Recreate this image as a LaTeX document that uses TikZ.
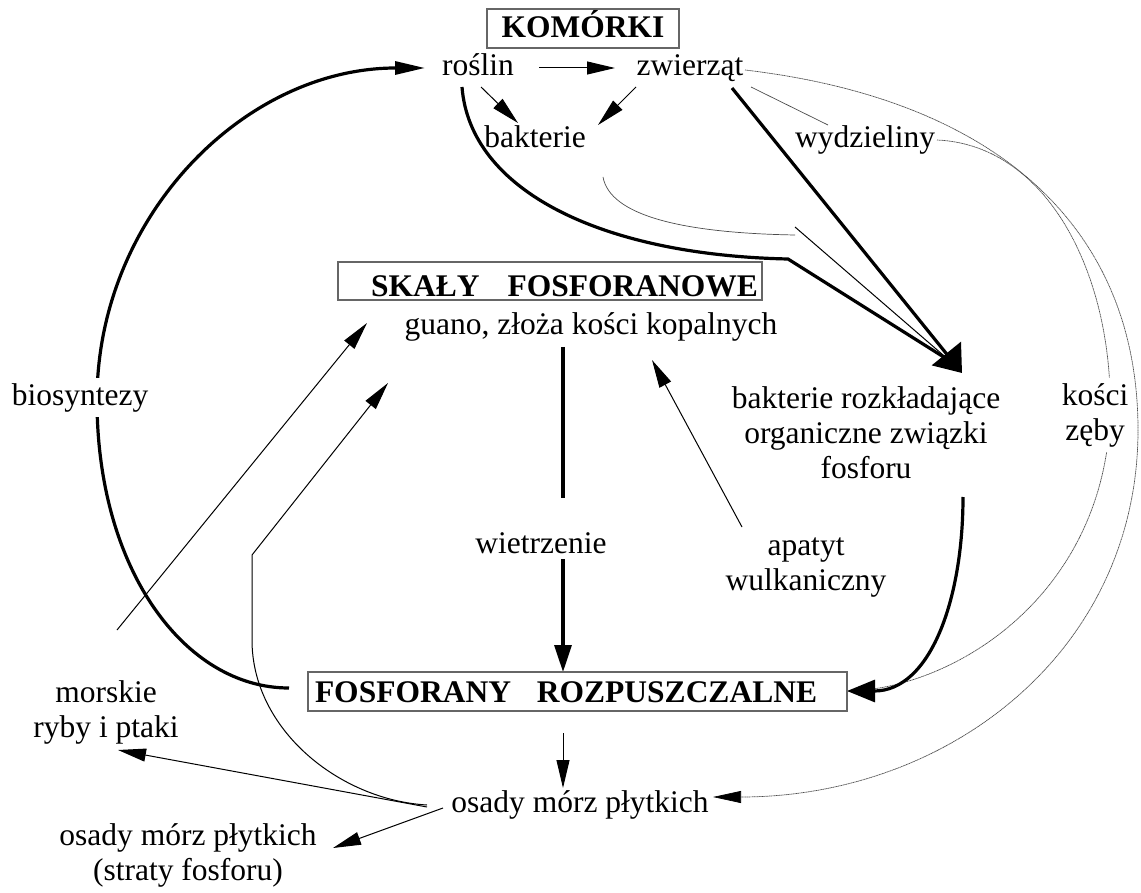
\documentclass[tikz,border=0pt]{standalone}
\usepackage{fontspec}
\setmainfont{Liberation Serif}
\usetikzlibrary{arrows.meta}
\pgfdeclarelayer{bg}
\pgfsetlayers{bg,main}

\begin{document}
\begin{tikzpicture}[x=1pt,y=-1pt,
  font=\fontsize{31.5}{35}\selectfont,
  lbl/.style={inner sep=0pt, anchor=base, align=center},
  masked/.style={lbl, fill=white, inner xsep=2pt, inner ysep=5pt},
  heading/.style={draw=black!60, line width=1.2pt, inner ysep=0pt, anchor=base,
    font=\bfseries\fontsize{31.5}{35}\selectfont},
  heavy/.style={line width=3.2pt},
  fine/.style={line width=1pt},
  faint/.style={line width=0.7pt, draw=black!70},
  dotline/.style={line width=0.7pt, draw=black!70, dash pattern=on 1.2pt off 0.5pt},
  tipthin/.style={-{Triangle[length=28pt,width=13pt]}},
  tipthick/.style={-{Triangle[length=27pt,width=17pt]}},
  tipbig/.style={-{Triangle[length=25pt,width=37pt]}},
  tipside/.style={-{Triangle[length=28pt,width=22pt]}}
]
\useasboundingbox (0,0) rectangle (1141,893);

% --- boxes ---
\node[heading, minimum width=192pt, text height=29pt, text depth=10pt] (kom) at (583,38) {KOMÓRKI};
\node[heading, text width=416pt, align=right, inner xsep=4pt, text height=35pt, text depth=3pt]
  (skaly) at (550,297) {SKAŁY\hspace*{28pt}FOSFORANOWE};
\node[heading, text width=525pt, align=left, inner xsep=7pt, text height=30pt, text depth=9pt]
  (fosf) at (577.5,702) {FOSFORANY\hspace*{26pt}ROZPUSZCZALNE};

% --- labels (multi-line labels sit on the baseline of their last line) ---
\node[lbl] (roslin) at (478,76) {roślin};
\node[lbl] (zwierzat) at (690,76) {zwierząt};
\node[lbl] (bakterie) at (535,148) {bakterie};
\node[lbl] (wydz) at (865,148) {wydzieliny};
\node[lbl] (guano) at (591,335) {guano, złoża kości kopalnych};
\node[masked] (bios) at (80,405) {biosyntezy};
\node[lbl] (rozkl) at (866,478) {bakterie rozkładające\\organiczne związki\\fosforu};
\node[masked] (kosci) at (1095,440) {kości\\zęby};
\node[lbl] (wietrz) at (541,553) {wietrzenie};
\node[lbl] (apatyt) at (806,590) {apatyt\\wulkaniczny};
\node[lbl] (morskie) at (106,737) {morskie\\ryby i ptaki};
\node[lbl] (osady) at (580,812) {osady mórz płytkich};
\node[lbl] (straty) at (188,880) {osady mórz płytkich\\(straty fosforu)};

% --- connector end points ---
\coordinate (fosfW) at (289,688);
\coordinate (roslinW) at (425,68);
\coordinate (roslinE) at (539,68);
\coordinate (zwierzW) at (615,68);
\coordinate (roslinS1) at (481,87);
\coordinate (baktNW) at (518,123);
\coordinate (zwierzS1) at (636,87);
\coordinate (baktNE) at (598,125);
\coordinate (roslinS2) at (462,87);
\coordinate (bend1) at (788,259);
\coordinate (zwierzS2) at (732,88);
\coordinate (rozklN) at (962,373);
\coordinate (merge) at (950,361);
\coordinate (baktSE) at (603,177);
\coordinate (bend2) at (795,235);
\coordinate (bend2b) at (795,227);
\coordinate (zwierzSE) at (751,87);
\coordinate (wydzNW) at (828,125);
\coordinate (zwierzE) at (745,70);
\coordinate (farR) at (1138,430);
\coordinate (osadyE) at (713,797);
\coordinate (wydzE) at (937,140);
\coordinate (kosciN) at (1110,420);
\coordinate (fosfE) at (847,691);
\coordinate (rozklS) at (963,497);
\coordinate (guanoS) at (563,347);
\coordinate (wietrzN) at (563,498);
\coordinate (wietrzS) at (563,559);
\coordinate (fosfN) at (563,672);
\coordinate (fosfS) at (563,733);
\coordinate (osadyN) at (563,788);
\coordinate (apatytN) at (742,527);
\coordinate (guanoSE) at (652,360);
\coordinate (morskieN) at (117,630);
\coordinate (guanoW1) at (367,323);
\coordinate (osadyW) at (427,805);
\coordinate (riseB) at (252,640);
\coordinate (riseT) at (252,555);
\coordinate (guanoW2) at (388,383);
\coordinate (osadyW2) at (427,807);
\coordinate (rybyE) at (118,750);
\coordinate (osadyW3) at (443,808);
\coordinate (stratyE) at (333,848);

\begin{pgfonlayer}{bg}
% biosynthesis loop back to the plant cells
\draw[heavy, -{Triangle[length=30pt,width=13pt]}] (fosfW)
  .. controls (185,688) and (97,570) .. (97,400)
  .. controls (97,217) and (244,68) .. (roslinW);
% within the cells
\draw[fine, tipthin] (roslinE) -- (zwierzW);
\draw[fine, tipthin] (roslinS1) -- (baktNW);
\draw[fine, tipthin] (zwierzS1) -- (baktNE);
% towards the decomposing bacteria
\draw[heavy] (roslinS2) .. controls (470,190) and (600,255) .. (bend1) -- (merge);
\draw[faint] (baktSE) .. controls (610,215) and (680,233) .. (bend2);
\draw[fine] (bend2b) -- (merge);
\draw[heavy, tipbig] (zwierzS2) -- (rozklN);
\draw[faint] (zwierzSE) -- (wydzNW);
% bones, teeth and secretions
\draw[dotline, -{Triangle[length=28pt,width=12pt,color=black]}] (zwierzE)
  .. controls (1000,100) and (1138,230) .. (farR)
  .. controls (1138,650) and (950,797) .. (osadyE);
\draw[dotline] (wydzE)
  .. controls (1050,145) and (1115,280) .. (kosciN)
  .. controls (1100,600) and (950,690) .. (fosfE);
\draw[heavy, tipside] (rozklS) .. controls (963,600) and (930,691) .. (fosfE);
% weathering
\draw[heavy] (guanoS) -- (wietrzN);
\draw[heavy, tipthick] (wietrzS) -- (fosfN);
\draw[fine, tipthin] (fosfS) -- (osadyN);
% volcanic apatite and marine deposits
\draw[fine, tipthin] (apatytN) -- (guanoSE);
\draw[fine, tipthin] (morskieN) -- (guanoW1);
\draw[fine, tipthin] (osadyW) .. controls (340,800) and (252,730) .. (riseB)
  -- (riseT) -- (guanoW2);
\draw[fine, tipthin] (osadyW2) -- (rybyE);
\draw[fine, tipthin] (osadyW3) -- (stratyE);
\end{pgfonlayer}
\end{tikzpicture}
\end{document}
